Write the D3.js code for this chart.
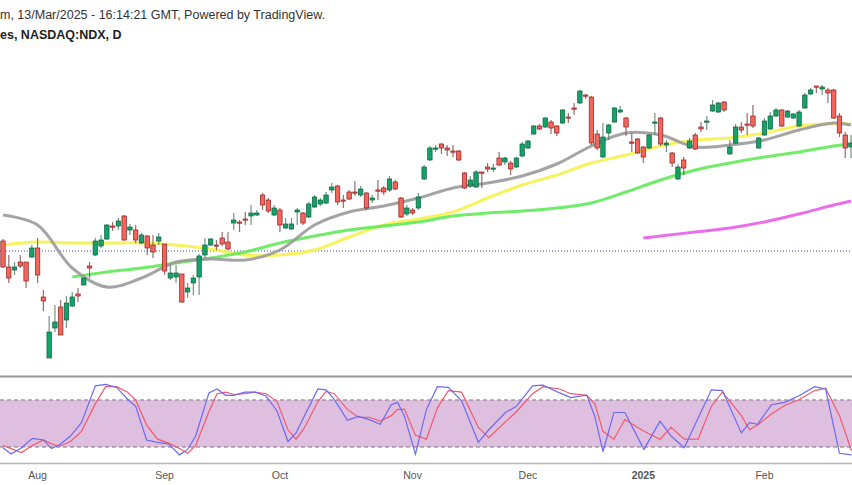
<!DOCTYPE html>
<html>
<head>
<meta charset="utf-8">
<script src="https://cdn.jsdelivr.net/npm/d3@7"></script>
<style>
  body { margin: 0; background: #fff; font-family: "Liberation Sans", Arial, sans-serif; }
</style>
</head>
<body>
<script>
// daily candles, chart units (higher = higher price)
const open = [259,233,230,238,238,243,252,203,142,172,193,180,194,206,215,234,245,254,261,274,274,284,270,270,257,264,255,259,256,222,223,226,208,217,223,245,255,255,262,258,277,278,281,284,285,305,300,285,290,272,271,288,287,283,293,296,297,310,314,300,308,308,305,307,300,310,312,310,318,302,286,290,292,321,340,351,356,352,349,349,327,314,313,328,333,331,342,338,337,333,344,352,366,374,373,378,374,377,383,392,397,405,403,366,343,367,378,388,382,358,361,353,352,377,382,355,347,321,340,352,365,373,378,389,388,398,346,357,373,376,384,352,365,371,384,390,383,382,374,392,406,414,411,410,410,384,365,353];
const close = [233,222,233,234,219,252,225,199,168,178,165,197,203,204,222,232,259,260,275,273,279,260,273,260,265,252,248,263,229,227,227,198,212,222,244,255,261,254,256,251,280,277,280,287,287,295,289,292,275,276,276,290,277,296,303,300,305,313,298,299,301,307,311,292,302,309,308,321,311,283,292,287,303,333,352,352,352,350,348,340,312,320,328,327,331,332,335,342,331,342,356,359,374,371,382,372,367,390,382,391,409,404,357,352,363,375,392,390,373,357,347,343,365,378,356,357,337,333,332,359,351,371,379,395,397,390,353,373,370,375,374,362,379,384,390,374,389,386,388,405,410,413,413,407,382,367,352,357];
const high = [261,245,238,245,238,255,262,210,184,195,200,204,208,212,222,238,262,265,276,278,282,285,276,275,267,265,265,267,256,235,235,226,217,225,246,262,262,260,268,268,287,280,288,295,290,307,302,295,292,282,282,292,288,298,305,302,308,317,315,305,310,319,314,308,305,320,314,324,320,303,295,292,307,335,354,355,357,355,355,350,328,324,330,328,337,336,348,343,339,343,358,360,375,376,383,380,375,391,387,397,410,406,404,370,377,376,393,394,383,367,362,354,366,387,383,360,348,336,343,362,367,378,384,400,398,399,360,376,378,387,395,363,382,388,392,391,390,387,390,407,412,414,415,412,411,387,368,365];
const low = [232,217,225,232,212,242,217,189,142,168,165,172,193,198,215,222,244,252,260,269,270,259,265,257,256,245,242,255,225,220,217,197,202,205,205,242,254,250,254,250,270,268,275,275,284,290,287,284,268,271,270,275,275,282,292,294,296,307,295,292,300,304,303,290,297,300,305,308,310,282,284,285,290,320,339,348,346,344,343,339,311,312,312,312,328,328,334,335,325,332,343,351,365,370,372,366,364,376,377,385,396,401,355,350,342,360,377,387,364,348,346,337,351,365,354,348,333,320,325,351,350,368,370,388,387,388,345,356,367,365,372,351,364,370,383,373,382,381,373,391,405,407,405,397,381,363,342,342];

// moving averages sampled every 6 sessions
const maIdx = [0,6,12,18,24,30,36,42,48,54,60,66,72,78,84,90,96,102,108,114,120,126,132,138,144,147];
const ma20 = [285,275,232,213,222,238,241,240,250,275,288,294,302,312,317,324,336,354,367,365,353,355,360,370,377,375];
const ma50 = [255,258,257,257,257,255,251,245,245,250,263,275,281,288,302,315,325,337,345,354,360,362,367,374,376,376];
const ma100 = [null,null,223,228,232,237,242,248,257,264,270,274,278,284,287,289,292,297,308,320,330,337,343,348,354,356];
const ma200Idx = [111,114,120,126,132,138,144,147];
const ma200 = [262,264,268,272,278,286,295,299];
const refLevel = 249;

// stochastic %K / %D
const stIdx = [0,1.4,3.2,5.1,7,8.4,9.8,11.7,13.6,16,17.8,19.7,21.6,23,24.9,26.8,28.7,30.6,32,33.4,35.7,37.1,38.6,40,41.9,43.7,45.6,47.5,49.4,50.8,52.2,54.6,56,57.4,59.7,61.6,63.5,65.4,67.3,68.4,69.6,71.5,73.4,75.3,77.2,79.5,82.4,84.2,87.1,89,91.8,93.6,96.5,98.4,101.2,102.6,104,105.9,107.8,111.1,113.9,115.8,118.1,120.5,122.8,124.7,128,129.4,130.8,133.2,135.5,137.9,140.7,142.6,145,147.1];
const stK = [19,11,19,31,29,18,23,34,51,98,100,96,81,72,29,26,24,10,17,34,89,94,86,86,90,90,85,66,27,38,59,94,93,81,54,59,55,49,74,77,59,11,68,97,96,79,26,42,64,72,98,99,89,83,86,59,14,64,64,17,53,34,19,57,93,92,38,51,49,74,77,85,97,94,12,10];
const stD = [22,18,13,22,29,24,21,27,40,75,97,97,90,80,48,30,25,18,12,22,65,88,90,87,88,90,88,78,42,30,44,78,91,88,68,58,58,53,60,68,68,35,30,70,92,90,45,32,52,65,88,97,94,88,86,75,40,30,55,40,30,45,30,30,72,90,60,42,48,62,73,80,92,95,60,15];

const months = ["Aug","Sep","Oct","Nov","Dec","2025","Feb"];
const monthIdx = [6,28,48,71,91,111,132];

const W = 852, H = 485;
const svg = d3.select("body").append("svg").attr("width", W).attr("height", H);

const x = d3.scaleLinear().domain([0, 147]).range([3, 851]);
const y = d3.scaleLinear().domain([115, 500]).range([385, 0]);
const ys = d3.scaleLinear().domain([0, 100]).range([462.7, 384.3]);

// header
svg.append("text").attr("x", 0).attr("y", 19).attr("font-size", 12.5).attr("fill", "#333")
  .text("m, 13/Mar/2025 - 16:14:21 GMT, Powered by TradingView.");
svg.append("text").attr("x", 0).attr("y", 39).attr("font-size", 12.5).attr("font-weight", "bold").attr("fill", "#222")
  .text("es, NASDAQ:NDX, D");

// reference dotted line
svg.append("line").attr("x1", 0).attr("x2", W).attr("y1", y(refLevel)).attr("y2", y(refLevel))
  .attr("stroke", "#3a4bb8").attr("stroke-width", 1).attr("stroke-dasharray", "1,2");

// moving averages
const maDefs = [
  [ma50, maIdx, "#f6f24a"],
  [ma100, maIdx, "#5fea58"],
  [ma20, maIdx, "#9a9a9a"],
  [ma200, ma200Idx, "#e85ee8"],
];
maDefs.forEach(([vals, ids, col]) => {
  const pts = vals.map((v, i) => [ids[i], v]).filter((p) => p[1] != null);
  svg.append("path")
    .attr("d", d3.line().x((p) => x(p[0])).y((p) => y(p[1])).curve(d3.curveCatmullRom)(pts))
    .attr("fill", "none").attr("stroke", col).attr("stroke-width", 3).attr("stroke-opacity", 0.9);
});

// candles
const candles = open.map((o, i) => ({ i, o, c: close[i], h: high[i], l: low[i] }));
const cg = svg.append("g");
cg.selectAll("line").data(candles).enter().append("line")
  .attr("x1", (d) => x(d.i)).attr("x2", (d) => x(d.i))
  .attr("y1", (d) => y(d.h)).attr("y2", (d) => y(d.l))
  .attr("stroke", (d) => (d.c >= d.o ? "#4f7a62" : "#7a4a4a")).attr("stroke-width", 1.2).attr("stroke-opacity", 0.8);
cg.selectAll("rect").data(candles).enter().append("rect")
  .attr("x", (d) => x(d.i) - 2.2).attr("width", 4.4)
  .attr("y", (d) => y(Math.max(d.o, d.c)))
  .attr("height", (d) => Math.max(1.2, Math.abs(y(d.o) - y(d.c))))
  .attr("fill", (d) => (d.c >= d.o ? "#13a36a" : "#f2665c"))
  .attr("stroke", (d) => (d.c >= d.o ? "#0f5e3c" : "#8a1f1f")).attr("stroke-width", 0.7);

// panel separators
svg.append("line").attr("x1", 0).attr("x2", W).attr("y1", 376.5).attr("y2", 376.5).attr("stroke", "#9a9a9a").attr("stroke-width", 2);
svg.append("line").attr("x1", 0).attr("x2", W).attr("y1", 463.5).attr("y2", 463.5).attr("stroke", "#b5b5b5").attr("stroke-width", 1.5);

// stochastic band
svg.append("rect").attr("x", 0).attr("width", W).attr("y", ys(80)).attr("height", ys(20) - ys(80)).attr("fill", "#dfbfe0");
[20, 80].forEach((v) => svg.append("line").attr("x1", 0).attr("x2", W).attr("y1", ys(v)).attr("y2", ys(v))
  .attr("stroke", "#777").attr("stroke-dasharray", "4,3").attr("stroke-width", 1));
const stLine = d3.line().x((d, i) => x(stIdx[i])).y((d) => ys(d));
svg.append("path").attr("d", stLine(stD)).attr("fill", "none").attr("stroke", "#f05a6a").attr("stroke-width", 1.2);
svg.append("path").attr("d", stLine(stK)).attr("fill", "none").attr("stroke", "#6a6af2").attr("stroke-width", 1.2);

// x axis
svg.append("g").selectAll("text").data(months).enter().append("text")
  .attr("x", (d, i) => x(monthIdx[i])).attr("y", 479).attr("text-anchor", "middle")
  .attr("font-size", 10.5).attr("fill", "#555").attr("font-weight", (d) => (d === "2025" ? "bold" : "normal"))
  .text((d) => d);
</script>
</body>
</html>
